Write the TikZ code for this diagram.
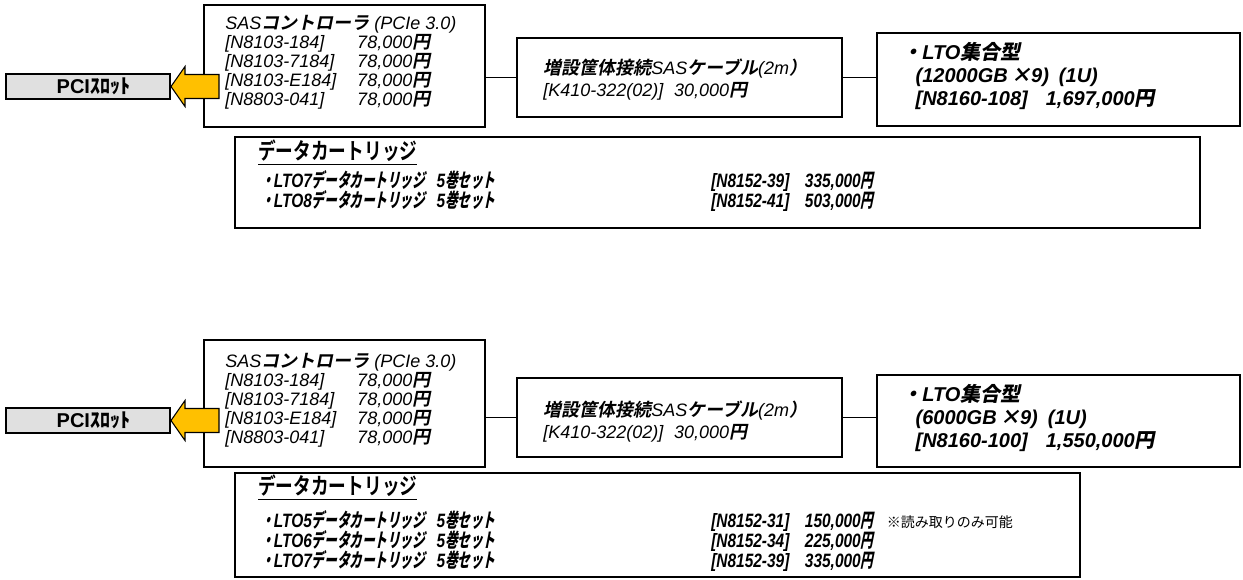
\documentclass[tikz,border=0pt]{standalone}
\usepackage{fontspec}
\setmainfont{Liberation Sans}
\newfontfamily\jpit{Noto Sans CJK JP Bold}[FakeSlant=0.2]
\newfontfamily\jpbold{Noto Sans CJK JP Bold}
\newfontfamily\jpup{Noto Sans CJK JP}
\newfontfamily\jptitle{Noto Sans CJK JP Bold}[FakeStretch=0.78]
\newfontfamily\jpnarrow{Noto Sans CJK JP Bold}[FakeSlant=0.2, FakeStretch=0.65]
\newfontfamily\narrowfont{Liberation Sans}[FakeStretch=0.8]
\usetikzlibrary{fit}
\definecolor{arrowyellow}{HTML}{FFC000}
\definecolor{slotgray}{HTML}{E0E0E0}
\newcommand{\jb}[1]{{\jpit #1}}
\newcommand{\nj}[1]{{\jpnarrow #1}}
\newcommand{\code}[1]{\makebox[99pt][l]{#1}}
\newcommand{\cartitem}[1]{\makebox[337.5pt][l]{#1}}
\newcommand{\sasfont}{\fontsize{13.5}{14.25}\selectfont\itshape}
\newcommand{\cabfont}{\fontsize{13.5}{16.5}\selectfont\itshape}
\newcommand{\ltofont}{\fontsize{15}{17.2}\selectfont\bfseries\itshape}
\newcommand{\cartfont}{\narrowfont\fontsize{14.5}{15}\selectfont\bfseries\itshape\lineskiplimit=-10pt\lineskip=0pt}
\newcommand{\titlefont}{\jptitle\fontsize{17}{17}\selectfont}
\newcommand{\notefont}{\jpup\mdseries\upshape\fontsize{10.5}{11}\selectfont}
\newcommand{\slotfont}{\fontsize{15}{15}\selectfont\bfseries}

\begin{document}
\begin{tikzpicture}[x=0.75pt,y=-0.75pt,
    box/.style={draw, line width=1.5pt, inner sep=0pt},
    txt/.style={anchor=north west, inner sep=0pt, align=left},
    link/.style={line width=1pt},
    yarrow/.style={draw, fill=arrowyellow, line width=0.8pt, line join=miter}]
\useasboundingbox (0,0) rectangle (1243,579);

% upper configuration
\node[box, fit={(204,5) (485,127)}] (sas1) {};
\node[box, fit={(517,38) (842,117)}] (cab1) {};
\node[box, fit={(877,33) (1240,126)}] (lto1) {};
\node[box, fit={(235,137) (1200,228)}] (cart1) {};
\node[box, fill=slotgray, fit={(6,74) (170,99)}] (pci1) {};
\node[font=\slotfont, xshift=4] (pci1txt) at (pci1.center) {PCI{\jpbold ｽﾛｯﾄ}};
\draw[yarrow] (pci1.east) -- ++(14,-20) -- ++(0,8) -- ++(34,0) -- ++(0,24) -- ++(-34,0) -- ++(0,8) -- cycle;
\draw[link] (cab1.west) -- (cab1.west -| sas1.east);
\draw[link] (cab1.east) -- (cab1.east -| lto1.west);

\node[txt, font=\sasfont] (sas1txt) at (225,15) {SAS\jb{コントローラ} (PCIe 3.0)\\
  \code{[N8103-184]}78,000\jb{円}\\
  \code{[N8103-7184]}78,000\jb{円}\\
  \code{[N8103-E184]}78,000\jb{円}\\
  \code{[N8803-041]}78,000\jb{円}};
\node[txt, font=\cabfont] (cab1txt) at (543,59) {\jb{増設筐体接続}SAS\jb{ケーブル}(2m\jb{）}\\
  \relax[K410-322(02)]\hspace{0.6em}30,000\jb{円}};
\node[txt, font=\ltofont] (lto1txt) at (902,42) {\jb{・}LTO\jb{集合型}\\
  \hspace{10pt}(12000GB\,\jb{×}9)\hspace{0.5em}(1U)\\
  \hspace{10pt}[N8160-108]\hspace{0.9em}1,697,000\jb{円}};
\node[txt, font=\titlefont] (cart1title) at (258,140) {\underline{データカートリッジ}};
\node[txt, font=\cartfont] (cart1txt) at (261,170) {\cartitem{\nj{・}LTO7\nj{データカートリッジ}\hspace{0.6em}5\nj{巻セット}}[N8152-39]\hspace{0.8em}335,000\nj{円}\\
  \cartitem{\nj{・}LTO8\nj{データカートリッジ}\hspace{0.6em}5\nj{巻セット}}[N8152-41]\hspace{0.8em}503,000\nj{円}};

% lower configuration
\node[box, fit={(204,340) (485,467)}] (sas2) {};
\node[box, fit={(517,378) (842,457)}] (cab2) {};
\node[box, fit={(877,375) (1240,467)}] (lto2) {};
\node[box, fit={(235,473) (1080,577)}] (cart2) {};
\node[box, fill=slotgray, fit={(6,408) (170,433)}] (pci2) {};
\node[font=\slotfont, xshift=4] (pci2txt) at (pci2.center) {PCI{\jpbold ｽﾛｯﾄ}};
\draw[yarrow] (pci2.east) -- ++(14,-20) -- ++(0,8) -- ++(34,0) -- ++(0,24) -- ++(-34,0) -- ++(0,8) -- cycle;
\draw[link] (cab2.west) -- (cab2.west -| sas2.east);
\draw[link] (cab2.east) -- (cab2.east -| lto2.west);

\node[txt, font=\sasfont] (sas2txt) at (225,353) {SAS\jb{コントローラ} (PCIe 3.0)\\
  \code{[N8103-184]}78,000\jb{円}\\
  \code{[N8103-7184]}78,000\jb{円}\\
  \code{[N8103-E184]}78,000\jb{円}\\
  \code{[N8803-041]}78,000\jb{円}};
\node[txt, font=\cabfont] (cab2txt) at (543,401) {\jb{増設筐体接続}SAS\jb{ケーブル}(2m\jb{）}\\
  \relax[K410-322(02)]\hspace{0.6em}30,000\jb{円}};
\node[txt, font=\ltofont] (lto2txt) at (902,384) {\jb{・}LTO\jb{集合型}\\
  \hspace{10pt}(6000GB\,\jb{×}9)\hspace{0.5em}(1U)\\
  \hspace{10pt}[N8160-100]\hspace{0.9em}1,550,000\jb{円}};
\node[txt, font=\titlefont] (cart2title) at (258,475) {\underline{データカートリッジ}};
\node[txt, font=\cartfont] (cart2txt) at (261,510) {\cartitem{\nj{・}LTO5\nj{データカートリッジ}\hspace{0.6em}5\nj{巻セット}}[N8152-31]\hspace{0.8em}150,000\nj{円}\hspace{10pt}{\notefont ※読み取りのみ可能}\\
  \cartitem{\nj{・}LTO6\nj{データカートリッジ}\hspace{0.6em}5\nj{巻セット}}[N8152-34]\hspace{0.8em}225,000\nj{円}\\
  \cartitem{\nj{・}LTO7\nj{データカートリッジ}\hspace{0.6em}5\nj{巻セット}}[N8152-39]\hspace{0.8em}335,000\nj{円}};
\end{tikzpicture}
\end{document}
